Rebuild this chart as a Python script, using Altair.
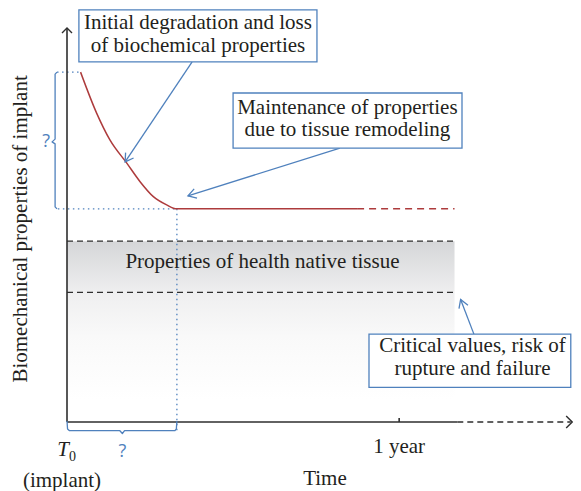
import math
import altair as alt
import pandas as pd

# ---------------- data (time in months since implant, property in arbitrary units) -------------
curve_t = [0.49, 1.07, 1.55, 2.16, 2.64, 3.12, 3.60, 3.96, 10.48]
curve_p = [88.8, 78.4, 71.6, 65.7, 61.0, 57.2, 55.1, 54.1, 54.1]
plateau_dash_t = [10.48, 14.0]
plateau_level = 54.1
start_level = 88.8
native_upper = 45.9
native_lower = 32.9
band_bottom = 5.6
band_end = 14.0
remodel_t = 3.97
one_year = 12
axis_solid_end = 14.1
axis_end = 18.25

# left brace ("?" on property loss) and bottom brace ("?" on time to plateau)
brace_l_x = [-0.36, -0.43, -0.43, -0.54, -0.43, -0.43, -0.36]
brace_l_y = [88.8, 88.3, 71.8, 71.1, 70.6, 54.6, 54.1]
brace_b_x = [0.0, 0.02, 0.09, 1.91, 2.0, 2.08, 3.90, 3.95, 3.97]
brace_b_y = [0.25, -1.78, -2.21, -2.21, -2.92, -2.21, -2.21, -1.78, 0.25]

# annotation boxes: x0, x1, y0, y1
box_x0 = [0.43, 6.0, 10.91]
box_x1 = [9.03, 14.27, 18.2]
box_y0 = [91.4, 69.5, 8.8]
box_y1 = [104.6, 83.5, 22.3]
# annotation text lines: centre x, centre y, text
line_cx = [4.73, 4.73, 10.13, 10.13, 14.65, 14.65]
line_cy = [101.2, 95.5, 79.6, 74.0, 19.4, 13.4]
line_text = ["Initial degradation and loss", "of biochemical properties",
             "Maintenance of properties", "due to tissue remodeling",
             "Critical values, risk of", "rupture and failure"]

# blue arrows: start -> tip
arr_x1 = [4.52, 9.86, 14.70]
arr_y1 = [91.4, 69.5, 22.3]
arr_x2 = [2.10, 4.37, 14.22]
arr_y2 = [66.0, 57.4, 31.1]

# ---------------- layout ----------------
W, H = 506, 394
XMAX = 18.28
PXX, PXY = W / XMAX, H / 100.0
FONT = "Liberation Serif"
TXT = "#231f20"
BLUE = "#4f81bd"
RED = "#ad3b3c"
AX = "#2e2e2e"

xs = alt.Scale(domain=[0, XMAX], nice=False, zero=False)
ys = alt.Scale(domain=[0, 100], nice=False, zero=False)


def ex(f):
    return alt.X(f"{f}:Q", scale=xs, axis=None)


def ey(f):
    return alt.Y(f"{f}:Q", scale=ys, axis=None)


def screen_angle(x1, y1, x2, y2):
    return math.degrees(math.atan2(-(y2 - y1) * PXY, (x2 - x1) * PXX)) % 360


def rules(df, **kw):
    return alt.Chart(pd.DataFrame(df)).mark_rule(**kw).encode(
        x=ex("x"), x2="x2:Q", y=ey("y"), y2="y2:Q")


layers = []

# gradient band (native tissue region)
band_df = pd.DataFrame({"x": [0], "x2": [band_end], "y": [native_upper], "y2": [band_bottom]})
layers.append(alt.Chart(band_df).mark_rect(
    fill=alt.Gradient(gradient="linear", x1=0, x2=0, y1=0, y2=1,
                      stops=[alt.GradientStop(color="#d5d6d8", offset=0),
                             alt.GradientStop(color="#efeff0", offset=0.33),
                             alt.GradientStop(color="#f9f9f9", offset=0.6),
                             alt.GradientStop(color="#ffffff", offset=1)]),
    stroke=None).encode(x=ex("x"), x2="x2:Q", y=ey("y"), y2="y2:Q"))

# dashed limits of native tissue
layers.append(rules({"x": [0, 0], "x2": [band_end, band_end],
                     "y": [native_upper, native_lower], "y2": [native_upper, native_lower]},
                    color=AX, strokeWidth=1.3, strokeDash=[6, 4]))

# blue dotted guides
layers.append(rules({"x": [-0.33, remodel_t, -0.36], "x2": [remodel_t, remodel_t, 0.49],
                     "y": [plateau_level, plateau_level, start_level],
                     "y2": [plateau_level, -2.5, start_level]},
                    color=BLUE, strokeWidth=1.3, strokeDash=[1.5, 3.5]))

# axes
layers.append(rules({"x": [0, 0, one_year], "x2": [axis_solid_end, 0, one_year],
                     "y": [0, 0, 0], "y2": [0, 100, 1.0]}, color=AX, strokeWidth=1.6))
layers.append(rules({"x": [axis_solid_end], "x2": [axis_end - 0.05], "y": [0], "y2": [0]},
                    color=AX, strokeWidth=1.4, strokeDash=[6, 4]))
axhead = pd.DataFrame({"x": [0, axis_end], "y": [100, 0], "ang": [270, 0], "s": [100, 144]})
layers.append(alt.Chart(axhead).mark_point(shape="M-1,-1L0,0L-1,1", filled=False,
                                           color=AX, strokeWidth=1.4, opacity=1).encode(
    x=ex("x"), y=ey("y"), angle=alt.Angle("ang:Q", scale=None), size=alt.Size("s:Q", scale=None)))

# red curve
curve_df = pd.DataFrame({"t": curve_t, "p": curve_p})
layers.append(alt.Chart(curve_df).mark_line(color=RED, strokeWidth=1.5, interpolate="monotone").encode(
    x=ex("t"), y=ey("p")))
dash_df = pd.DataFrame({"t": plateau_dash_t, "p": [plateau_level] * len(plateau_dash_t)})
layers.append(alt.Chart(dash_df).mark_line(color=RED, strokeWidth=1.5, strokeDash=[7, 5]).encode(
    x=ex("t"), y=ey("p")))

# braces
for bx, by in ((brace_l_x, brace_l_y), (brace_b_x, brace_b_y)):
    bdf = pd.DataFrame({"x": bx, "y": by, "i": list(range(len(bx)))})
    layers.append(alt.Chart(bdf).mark_line(color=BLUE, strokeWidth=1.3, strokeJoin="round").encode(
        x=ex("x"), y=ey("y"), order="i:Q"))

# arrows
layers.append(rules({"x": arr_x1, "x2": arr_x2, "y": arr_y1, "y2": arr_y2}, color=BLUE, strokeWidth=1.3))
ah = pd.DataFrame({"x": arr_x2, "y": arr_y2,
                   "ang": [screen_angle(a, b, c, d) for a, b, c, d in zip(arr_x1, arr_y1, arr_x2, arr_y2)]})
layers.append(alt.Chart(ah).mark_point(shape="M-1,-0.6L0,0L-1,0.6", filled=False, color=BLUE,
                                       strokeWidth=1.3, size=256, opacity=1).encode(
    x=ex("x"), y=ey("y"), angle=alt.Angle("ang:Q", scale=None)))

# boxes
boxes = pd.DataFrame({"x": box_x0, "x2": box_x1, "y": box_y0, "y2": box_y1})
layers.append(alt.Chart(boxes).mark_rect(fill="white", stroke=BLUE, strokeWidth=1.3).encode(
    x=ex("x"), x2="x2:Q", y=ey("y"), y2="y2:Q"))
lines = pd.DataFrame({"cx": line_cx, "cy": line_cy, "label": line_text})
layers.append(alt.Chart(lines).mark_text(font=FONT, fontSize=21, color=TXT,
                                         baseline="middle", align="center").encode(
    x=ex("cx"), y=ey("cy"), text="label:N"))


# plain labels
def label(x, y, text, size=21, color=TXT, font=FONT, **kw):
    df = pd.DataFrame({"x": [x], "y": [y], "text": [text]})
    return alt.Chart(df).mark_text(font=font, fontSize=size, color=color, baseline="middle", **kw).encode(
        x=ex("x"), y=ey("y"), text="text:N")


layers.append(label(7.06, 40.5, "Properties of health native tissue"))
layers.append(label(one_year, -6.3, "1 year"))
layers.append(label(9.32, -14.5, "Time"))
layers.append(label(-0.18, -14.9, "(implant)"))
layers.append(label(-0.14, -7.1, "T", fontStyle="italic"))
layers.append(label(0.20, -9.0, "0", size=14))
layers.append(label(2.0, -7.6, "?", size=18, color=BLUE, font="Open Sans"))
layers.append(label(-0.75, 71.1, "?", size=18, color=BLUE, font="Open Sans"))
layers.append(label(-1.66, 49.0, "Biomechanical properties of implant", angle=270))

chart = alt.layer(*layers).properties(
    width=W, height=H,
    autosize=alt.AutoSizeParams(type="none"),
    padding={"left": 59, "top": 20, "right": 0, "bottom": 69},
    background="white",
).configure_view(stroke=None)

chart.save("out.html", embed_options={"renderer": "svg", "actions": False})
